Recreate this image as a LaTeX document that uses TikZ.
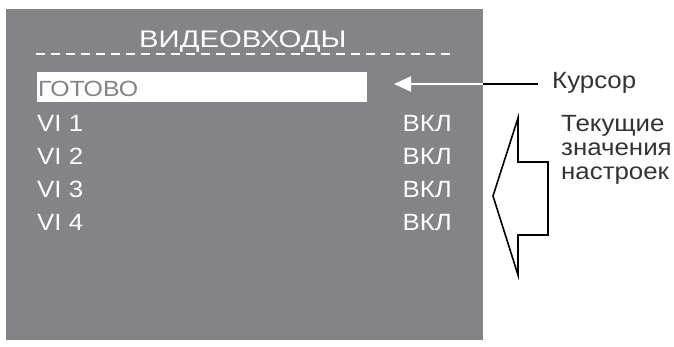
\documentclass[tikz,border=0pt]{standalone}
\usepackage{fontspec}
\setmainfont[FakeStretch=1.1]{Liberation Sans}
\newfontfamily\titlefont[FakeStretch=1.22]{Liberation Sans}
\newfontfamily\readyfont[FakeStretch=1.13]{Liberation Sans}
\usetikzlibrary{arrows.meta}
\definecolor{screen}{HTML}{838388}
\definecolor{labelc}{HTML}{333333}
\begin{document}
\begin{tikzpicture}[x=1pt,y=-1pt,
  screentxt/.style={inner sep=0pt,text=white,font=\fontsize{23.5}{24}\selectfont},
  labeltxt/.style={inner sep=0pt,text=labelc,font=\fontsize{23.5}{24}\selectfont},
  outline/.style={draw=black,line width=1.6pt,line join=miter}]
\useasboundingbox (0,0) rectangle (674,347);
\fill[screen] (6,9) rectangle (483,340);
% dashed rule under the title
\draw[white,line width=2pt,dash pattern=on 9pt off 6pt] (36,54) -- (450,54);
\node[screentxt,anchor=base west,font=\titlefont\fontsize{24}{24}\selectfont] (title) at (139,48) {ВИДЕОВХОДЫ};
% cursor bar
\fill[white] (37,72) rectangle (367,102);
\node[screentxt,anchor=base west,text=screen,font=\readyfont\fontsize{22}{24}\selectfont] (ready) at (38,97) {ГОТОВО};
% rows
\node[screentxt,anchor=base west] (vi1) at (37,131.5) {VI 1};
\node[screentxt,anchor=base west] (vi2) at (37,164.5) {VI 2};
\node[screentxt,anchor=base west] (vi3) at (37,197.5) {VI 3};
\node[screentxt,anchor=base west] (vi4) at (37,230.5) {VI 4};
\node[screentxt,anchor=base east] (on1) at (452,131.5) {ВКЛ};
\node[screentxt,anchor=base east] (on2) at (452,164.5) {ВКЛ};
\node[screentxt,anchor=base east] (on3) at (452,197.5) {ВКЛ};
\node[screentxt,anchor=base east] (on4) at (452,230.5) {ВКЛ};
% cursor pointer
\node[labeltxt,anchor=base west] (curs) at (552,89) {Курсор};
\coordinate (cedge) at (483,84);
\coordinate (ctip) at (394,84);
\coordinate (cstart) at (538,84);
\draw[black,line width=2pt] (cstart) -- (cedge);
\draw[white,line width=2pt,-{Triangle[length=17pt,width=15pt]}] (cedge) -- (ctip);
% big hollow arrow
\draw[outline] (518,118) -- (518,162) -- (548,162) -- (548,235) -- (518,235) -- (518,275) -- (493,196) -- cycle;
\node[labeltxt,anchor=base west,align=left] (cur) at (561,180) {Текущие\\значения\\настроек};
\end{tikzpicture}
\end{document}
